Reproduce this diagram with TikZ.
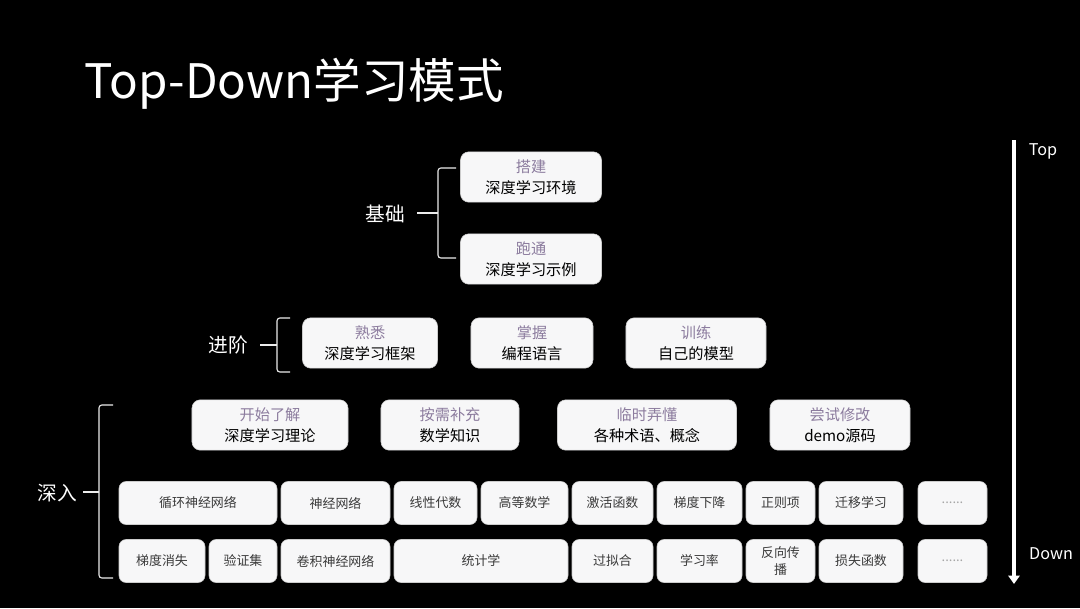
\documentclass[tikz,border=0pt]{standalone}
\usepackage{fontspec}
\setmainfont{Noto Sans CJK SC}
\usepackage{xcolor}
\usetikzlibrary{positioning,arrows.meta}

\definecolor{lead}{HTML}{8C7C9E}
\definecolor{cellfill}{HTML}{F7F7F8}
\definecolor{celltext}{HTML}{3A3A3A}
\newcommand\sixdots{{\color{gray!70}......}}

\tikzset{
  card/.style={draw=gray!40, fill=cellfill, rounded corners=6pt, inner sep=0pt,
    align=center, font=\fontsize{10.8}{15}\selectfont, minimum height=1.26cm},
  cell/.style={draw=gray!40, fill=cellfill, rounded corners=5pt, inner sep=0pt,
    align=center, text=celltext, font=\fontsize{9.2}{11.5}\selectfont, minimum height=1.075cm},
  tag/.style={white, font=\fontsize{14}{16}\selectfont},
  bracket/.style={white!85!gray, line width=0.8pt, rounded corners=2pt},
}

\begin{document}
\begin{tikzpicture}[x=0.025cm, y=-0.025cm]
\fill[black] (0,0) rectangle (1080,608);
\useasboundingbox (0,0) rectangle (1080,608);

\node[white, anchor=west, font=\fontsize{33.8}{40}\selectfont](title) at (80,84) {Top-Down学习模式};

% basics
\node[card, minimum width=3.525cm](setup) at (531,177) {{\color{lead}搭建}\\深度学习环境};
\node[card, minimum width=3.525cm](runex) at (531,259) {{\color{lead}跑通}\\深度学习示例};
\node[tag](basic) at (385,214) {基础};

% advanced
\node[card, minimum width=3.375cm](frame) at (370,343) {{\color{lead}熟悉}\\深度学习框架};
\node[card, minimum width=3.05cm](lang) at (532,343) {{\color{lead}掌握}\\编程语言};
\node[card, minimum width=3.5cm](train) at (696,343) {{\color{lead}训练}\\自己的模型};
\node[tag](adv) at (228,345) {进阶};

% deep
\node[card, minimum width=3.9cm](theory) at (270,425) {{\color{lead}开始了解}\\深度学习理论};
\node[card, minimum width=3.45cm](math) at (450,425) {{\color{lead}按需补充}\\数学知识};
\node[card, minimum width=4.475cm](terms) at (647,425) {{\color{lead}临时弄懂}\\各种术语、概念};
\node[card, minimum width=3.5cm](demo) at (840,425) {{\color{lead}尝试修改}\\demo源码};
\node[tag](deep) at (57,493) {深入};

% brackets: spine x / end x / top y / bottom y / tick x / tick y
\foreach \s/\r/\t/\b/\k/\m in {438/456/168/258/417/213, 277/290/318/372/260/345, 99/113/405/578/83/492}
	{\draw[bracket] (\r,\t) -- (\s,\t) -- (\s,\b) -- (\r,\b);
	\draw[bracket] (\k,\m) -- (\s,\m);}

\foreach \n/\a/\b/\t in {rnn/119/277/循环神经网络, nn/281/390/神经网络, linalg/394/477/线性代数,
    calc/481/568/高等数学, act/572/653/激活函数, gd/657/742/梯度下降, reg/746/815/正则项,
    trans/819/903/迁移学习, more1/918/987/\sixdots}
  \node[cell, minimum width=(\b-\a)*0.025cm](\n) at ({(\a+\b)/2},503) {\t};

\foreach \n/\a/\b/\t in {vanish/119/205/梯度消失, valid/209/277/验证集, cnn/281/390/卷积神经网络,
    stats/394/568/统计学, overfit/572/653/过拟合, lr/657/742/学习率, bp/746/815/{反向传\\播},
    loss/819/903/损失函数, more2/918/987/\sixdots}
  \node[cell, minimum width=(\b-\a)*0.025cm](\n) at ({(\a+\b)/2},561) {\t};

% direction
\node[white, font=\fontsize{11.5}{13}\selectfont](top) at (1043,151) {Top};
\node[white, font=\fontsize{11.5}{13}\selectfont](down) at (1051,554) {Down};
\coordinate (ahead) at (1014,140);
\coordinate (atail) at (1014,584);
\draw[white, line width=2.8pt, -{Triangle[width=8pt, length=6pt]}] (ahead) -- (atail);
\end{tikzpicture}
\end{document}
